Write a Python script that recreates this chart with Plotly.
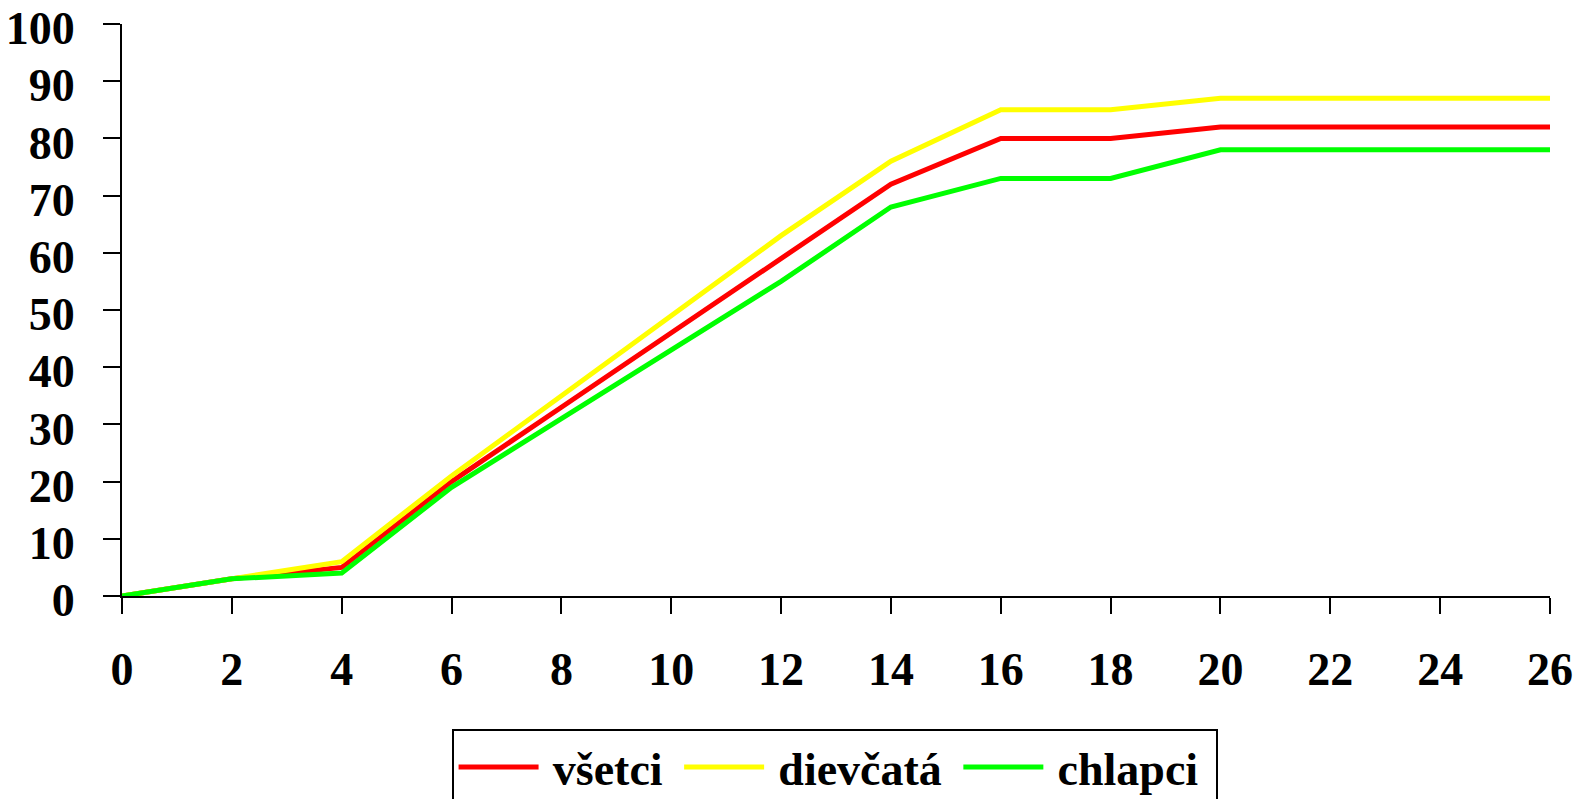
import plotly.graph_objects as go

x_vals = [0, 2, 4, 6, 8, 10, 12, 14, 16, 18, 20, 22, 24, 26]
vsetci = [0, 3, 5, 20, 33, 46, 59, 72, 80, 80, 82, 82, 82, 82]
dievcata = [0, 3, 6, 21, 35, 49, 63, 76, 85, 85, 87, 87, 87, 87]
chlapci = [0, 3, 4, 19, 31, 43, 55, 68, 73, 73, 78, 78, 78, 78]
y_ticks = list(range(0, 101, 10))
series_names = ["všetci", "dievčatá", "chlapci"]

FONT = "Liberation Serif"
FS = 46

fig = go.Figure()
for name, vals, col in zip(series_names, [vsetci, dievcata, chlapci],
                           ["#FF0000", "#FFFF00", "#00FF00"]):
    fig.add_trace(go.Scatter(x=x_vals, y=vals, mode="lines",
                             name="\u2009" + name + "\u00a0",
                             line=dict(color=col, width=5)))

# page body has a default 8px margin, so the figure is sized to fit the window
fig.update_layout(
    width=1578, height=791,
    margin=dict(l=114, r=36, t=16, b=203, autoexpand=False),
    plot_bgcolor="white", paper_bgcolor="white",
    font=dict(family=FONT, size=FS, color="black"),
    showlegend=True,
    legend=dict(orientation="h", x=0.499, xanchor="center", y=-0.232, yanchor="top",
                bordercolor="black", borderwidth=2, bgcolor="white",
                font=dict(family=FONT, size=FS, color="black", weight="bold"),
                itemwidth=80, traceorder="normal"),
)
fig.update_xaxes(range=[0, 26], tickvals=x_vals, ticktext=[str(v) for v in x_vals],
                 showgrid=False, zeroline=False, showline=True, linecolor="black", linewidth=2,
                 ticks="outside", ticklen=16, tickwidth=2, tickcolor="black",
                 ticklabelstandoff=16, automargin=False, ticklabeloverflow="allow",
                 tickfont=dict(family=FONT, size=FS, color="black", weight="bold"))
fig.update_yaxes(range=[0, 100], tickvals=y_ticks,
                 showgrid=False, zeroline=False, showline=True, linecolor="black", linewidth=2,
                 ticks="outside", ticklen=17, tickwidth=2, tickcolor="black",
                 ticklabelstandoff=19, ticklabelshift=4, automargin=False,
                 ticklabeloverflow="allow",
                 tickfont=dict(family=FONT, size=FS, color="black", weight="bold"))

fig.write_html("out.html")
